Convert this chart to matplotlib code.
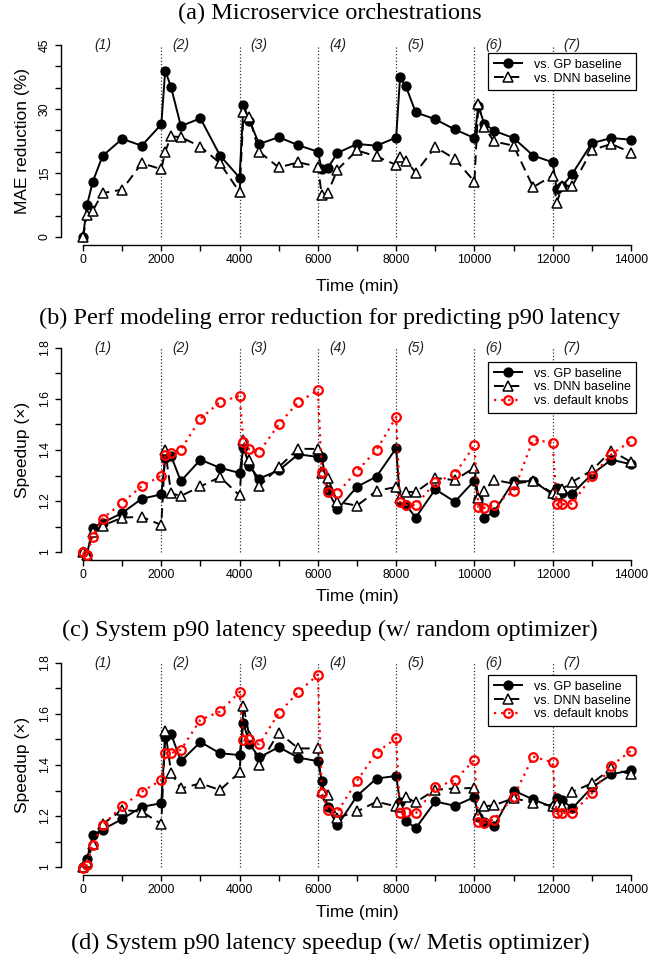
import matplotlib
matplotlib.use('Agg')
import matplotlib.pyplot as plt
from matplotlib.lines import Line2D
from matplotlib.ticker import FixedLocator, FixedFormatter

W, H = 660, 964

# ---------------- data ----------------
time_min = [0, 100, 250, 500, 1000, 1500,
            2000, 2100, 2250, 2500, 3000, 3500,
            4000, 4100, 4250, 4500, 5000, 5500,
            6000, 6100, 6250, 6500, 7000, 7500,
            8000, 8100, 8250, 8500, 9000, 9500,
            10000, 10100, 10250, 10500, 11000, 11500,
            12000, 12100, 12250, 12500, 13000, 13500,
            14000]

mae_gp = [0, 7.4, 13.0, 19.0, 23.0, 21.4,
          26.4, 39.0, 35.1, 26.0, 27.8, 19.1,
          13.9, 31.0, 27.3, 21.8, 23.4, 21.5,
          20.0, 15.9, 16.1, 19.7, 21.8, 21.4,
          23.3, 37.4, 35.3, 29.2, 27.6, 25.2,
          23.2, 30.6, 26.6, 24.9, 23.2, 19.1,
          17.5, 11.3, 12.0, 14.8, 22.0, 23.2,
          22.8]
mae_dnn = [0, 5.1, 6.2, 10.3, 11.1, 17.3,
           15.9, 20.0, 23.6, 23.4, 21.2, 17.3,
           10.5, 29.2, 28.1, 20.0, 16.3, 17.5,
           16.5, 9.9, 10.3, 15.8, 20.3, 18.9,
           16.9, 18.7, 17.9, 15.1, 21.1, 18.3,
           13.0, 31.2, 25.8, 22.4, 21.4, 11.7,
           14.4, 8.0, 12.0, 12.0, 20.4, 21.8,
           19.8]

rnd_gp = [1.0, 0.99, 1.096, 1.115, 1.153, 1.209,
          1.226, 1.37, 1.376, 1.278, 1.362, 1.33,
          1.31, 1.41, 1.336, 1.288, 1.32, 1.383,
          1.373, 1.371, 1.243, 1.167, 1.256, 1.296,
          1.407, 1.20, 1.185, 1.135, 1.246, 1.197,
          1.28, 1.207, 1.135, 1.157, 1.277, 1.278,
          1.226, 1.25, 1.233, 1.229, 1.305, 1.362,
          1.344]
rnd_dnn = [1.0, 0.99, 1.08, 1.103, 1.135, 1.138,
           1.106, 1.40, 1.23, 1.22, 1.257, 1.294,
           1.222, 1.44, 1.36, 1.257, 1.333, 1.405,
           1.404, 1.308, 1.29, 1.196, 1.182, 1.24,
           1.255, 1.212, 1.236, 1.235, 1.29, 1.282,
           1.331, 1.21, 1.24, 1.283, 1.268, 1.278,
           1.231, 1.229, 1.248, 1.275, 1.32, 1.397,
           1.353]
rnd_def = [1.0, 0.99, 1.06, 1.131, 1.193, 1.258,
           1.299, 1.38, 1.387, 1.401, 1.523, 1.588,
           1.612, 1.43, 1.402, 1.392, 1.50, 1.588,
           1.634, 1.314, 1.236, 1.231, 1.317, 1.40,
           1.529, 1.195, 1.185, 1.183, 1.273, 1.306,
           1.418, 1.176, 1.173, 1.186, 1.238, 1.441,
           1.428, 1.187, 1.187, 1.19, 1.297, 1.383,
           1.435]

met_gp = [1.0, 1.03, 1.125, 1.147, 1.188, 1.236,
          1.25, 1.509, 1.522, 1.415, 1.49, 1.446,
          1.439, 1.564, 1.483, 1.43, 1.47, 1.429,
          1.415, 1.338, 1.234, 1.163, 1.279, 1.347,
          1.357, 1.255, 1.182, 1.152, 1.257, 1.24,
          1.274, 1.196, 1.176, 1.159, 1.30, 1.265,
          1.235, 1.271, 1.262, 1.23, 1.312, 1.363,
          1.38]
met_dnn = [1.0, 1.02, 1.09, 1.168, 1.224, 1.217,
           1.169, 1.535, 1.37, 1.308, 1.328, 1.302,
           1.371, 1.632, 1.512, 1.40, 1.527, 1.465,
           1.465, 1.298, 1.282, 1.193, 1.218, 1.256,
           1.238, 1.236, 1.273, 1.254, 1.303, 1.308,
           1.31, 1.205, 1.238, 1.242, 1.27, 1.252,
           1.24, 1.249, 1.24, 1.295, 1.328, 1.387,
           1.363]
met_def = [0.997, 1.007, 1.088, 1.164, 1.238, 1.295,
           1.341, 1.446, 1.446, 1.46, 1.577, 1.61,
           1.686, 1.498, 1.50, 1.481, 1.603, 1.686,
           1.754, 1.291, 1.223, 1.216, 1.338, 1.449,
           1.505, 1.212, 1.216, 1.21, 1.312, 1.341,
           1.42, 1.177, 1.173, 1.186, 1.275, 1.433,
           1.41, 1.21, 1.212, 1.212, 1.289, 1.397,
           1.456]

phase_labels = ['(1)', '(2)', '(3)', '(4)', '(5)', '(6)', '(7)']
phase_label_x = [500, 2500, 4500, 6500, 8500, 10500, 12500]
phase_bounds = [2000, 4000, 6000, 8000, 10000, 12000]

x_ticks = list(range(0, 14001, 1000))
x_ticklabels = [str(v) if v % 2000 == 0 else '' for v in x_ticks]

mae_yticks = list(range(0, 46, 5))
mae_yticklabels = [str(v) if v % 15 == 0 else '' for v in mae_yticks]
spd_yticks = [1.0, 1.1, 1.2, 1.3, 1.4, 1.5, 1.6, 1.7, 1.8]
spd_yticklabels = ['1', '', '1.2', '', '1.4', '', '1.6', '', '1.8']

captions = ['(a) Microservice orchestrations',
            '(b) Perf modeling error reduction for predicting p90 latency',
            '(c) System p90 latency speedup (w/ random optimizer)',
            '(d) System p90 latency speedup (w/ Metis optimizer)']

leg_gp = 'vs. GP baseline'
leg_dnn = 'vs. DNN baseline'
leg_def = 'vs. default knobs'

# ---------------- style ----------------
plt.rcParams['font.family'] = ['Liberation Sans', 'DejaVu Sans']
SERIF = ['Liberation Serif', 'DejaVu Serif']

fig = plt.figure(figsize=(W / 100, H / 100), dpi=100)


def add_ax(left, top, right, bottom):
    return fig.add_axes([left / W, 1 - bottom / H, (right - left) / W, (bottom - top) / H])


gp_kw = dict(color='black', lw=1.4, ls='-', marker='o', ms=6.4, mfc='black', mec='black')
dnn_kw = dict(color='black', lw=1.4, ls=(0, (5, 3)), marker='^', ms=7.2, mfc='white',
              mec='black', mew=1.1)
def_kw = dict(color='red', lw=1.6, ls=(0, (1, 2.2)), marker='o', ms=6.2, mfc='none',
              mec='red', mew=1.6)

panels = [
    dict(top=37.3, bottom=244.7, ylim=(-1.8, 46.8), yticks=mae_yticks,
         yticklabels=mae_yticklabels, ymin=0, ymax=45, ylabel='MAE reduction (%)',
         series=[mae_gp, mae_dnn], leg_top=53, xlabel_y=287),
    dict(top=339.8, bottom=560.2, ylim=(0.968, 1.832), yticks=spd_yticks,
         yticklabels=spd_yticklabels, ymin=1.0, ymax=1.8, ylabel='Speedup (\u00d7)',
         series=[rnd_gp, rnd_dnn, rnd_def], leg_top=362, xlabel_y=597),
    dict(top=654.8, bottom=875.2, ylim=(0.968, 1.832), yticks=spd_yticks,
         yticklabels=spd_yticklabels, ymin=1.0, ymax=1.8, ylabel='Speedup (\u00d7)',
         series=[met_gp, met_dnn, met_def], leg_top=675, xlabel_y=912),
]

for p in panels:
    ax = add_ax(61.1, p['top'], 652.9, p['bottom'])
    ax.set_xlim(-560, 14560)
    ax.set_ylim(*p['ylim'])
    for s in ['top', 'right']:
        ax.spines[s].set_visible(False)
    ax.spines['left'].set_bounds(p['ymin'], p['ymax'])
    ax.spines['bottom'].set_bounds(0, 14000)
    for s in ['left', 'bottom']:
        ax.spines[s].set_linewidth(1.0)
    ax.xaxis.set_major_locator(FixedLocator(x_ticks))
    ax.xaxis.set_major_formatter(FixedFormatter(x_ticklabels))
    ax.yaxis.set_major_locator(FixedLocator(p['yticks']))
    ax.yaxis.set_major_formatter(FixedFormatter(p['yticklabels']))
    ax.tick_params(axis='both', direction='out', length=4.5, width=1.0, labelsize=8.8)
    ax.tick_params(axis='x', pad=2)
    ax.tick_params(axis='y', pad=3, labelrotation=90)
    for lab in ax.get_yticklabels():
        lab.set_va('center')

    ax.vlines(phase_bounds, p['ymin'], p['ymax'], colors='#333333', linestyles=':', lw=0.9,
              zorder=1)
    for lx, lt in zip(phase_label_x, phase_labels):
        ax.text(lx, p['ymax'], lt, ha='center', va='center', fontsize=10, style='italic',
                color='#222222')

    ser = p['series']
    ax.plot(time_min, ser[0], zorder=3, **gp_kw)
    ax.plot(time_min, ser[1], zorder=4, **dnn_kw)
    handles = [Line2D([], [], **gp_kw), Line2D([], [], **dnn_kw)]
    labels = [leg_gp, leg_dnn]
    if len(ser) > 2:
        ax.plot(time_min, ser[2], zorder=5, **def_kw)
        handles.append(Line2D([], [], **def_kw))
        labels.append(leg_def)

    ax_h = p['bottom'] - p['top']
    leg = ax.legend(handles, labels, loc='upper right',
                    bbox_to_anchor=((636 - 61.1) / 591.8, (p['bottom'] - p['leg_top']) / ax_h),
                    borderaxespad=0, fontsize=9, frameon=True, fancybox=False,
                    edgecolor='black', framealpha=1, handlelength=2.3, handletextpad=0.9,
                    borderpad=0.45, labelspacing=0.15)
    leg.get_frame().set_linewidth(0.9)

    yl_center = (ax.transData.transform((0, (p['ymin'] + p['ymax']) / 2))[1])
    fig.text(23 / W, yl_center / fig.bbox.height, p['ylabel'], rotation=90, ha='center',
             va='center', fontsize=12.5)
    fig.text(357 / W, 1 - p['xlabel_y'] / H, 'Time (min)', ha='center', va='center',
             fontsize=12.5)

cap_y = [13, 318, 630, 943]
for cy, ct in zip(cap_y, captions):
    fig.text(330 / W, 1 - cy / H, ct, ha='center', va='center', fontsize=17.5, family=SERIF)

fig.savefig('out.png', dpi=100)
